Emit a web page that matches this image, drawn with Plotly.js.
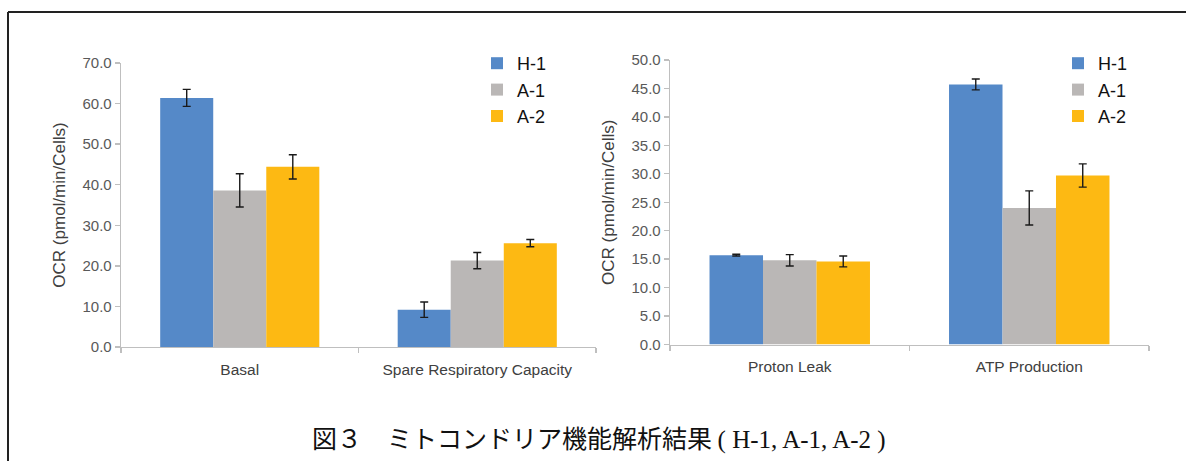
<!DOCTYPE html>
<html>
<head>
<meta charset="utf-8">
<script src="https://cdn.plot.ly/plotly-3.0.1.min.js"></script>
<style>html,body{margin:0;padding:0;background:#fff;}#chart{width:1186px;height:461px;}</style>
</head>
<body>
<div id="chart"></div>
<script>
// ---- data ----
const seriesNames = ["H-1", "A-1", "A-2"];
const leftCategories = ["Basal", "Spare Respiratory Capacity"];
const rightCategories = ["Proton Leak", "ATP Production"];

const leftH1 = [61.4, 9.2];
const leftA1 = [38.6, 21.3];
const leftA2 = [44.4, 25.6];
const leftH1Err = [2.1, 1.9];
const leftA1Err = [4.1, 2.0];
const leftA2Err = [3.0, 0.9];

const rightH1 = [15.7, 45.7];
const rightA1 = [14.8, 24.0];
const rightA2 = [14.6, 29.7];
const rightH1Err = [0.15, 0.95];
const rightA1Err = [1.0, 3.0];
const rightA2Err = [0.95, 2.05];

const yTitle = "OCR (pmol/min/Cells)";
const caption = "図３　ミトコンドリア機能解析結果 <span style=\"font-family:'Liberation Serif','DejaVu Serif',serif\">( H-1, A-1, A-2 )</span>";

const colors = ["#5589c8", "#bab7b6", "#fdb913"];

// ---- layout helpers ----
const W = 1186, H = 461;
const M = {l: 121, r: 37, t: 60, b: 114};
const PW = W - M.l - M.r, PH = H - M.t - M.b;
const px = x => (x - M.l) / PW;
const py = y => (H - M.b - y) / PH;

function errBar(arr) {
  return {type: "data", array: arr, visible: true, color: "#1a1a1a", thickness: 1.4, width: 4};
}

const leftVals = [leftH1, leftA1, leftA2];
const leftErrs = [leftH1Err, leftA1Err, leftA2Err];
const rightVals = [rightH1, rightA1, rightA2];
const rightErrs = [rightH1Err, rightA1Err, rightA2Err];

const traces = [];
seriesNames.forEach((name, i) => {
  traces.push({
    type: "bar", name: name, x: leftCategories, y: leftVals[i],
    error_y: errBar(leftErrs[i]),
    marker: {color: colors[i], line: {width: 0}},
    xaxis: "x", yaxis: "y", legend: "legend", hoverinfo: "x+y"
  });
});
seriesNames.forEach((name, i) => {
  traces.push({
    type: "bar", name: name, x: rightCategories, y: rightVals[i],
    error_y: errBar(rightErrs[i]),
    marker: {color: colors[i], line: {width: 0}},
    xaxis: "x2", yaxis: "y2", legend: "legend2", hoverinfo: "x+y"
  });
});

const tickFont = {family: "'Liberation Sans', Arial, sans-serif", size: 15, color: "#595959"};
const catFont = {family: "'Liberation Sans', Arial, sans-serif", size: 15.5, color: "#404040"};
const titleFont = {family: "'Liberation Sans', Arial, sans-serif", size: 17, color: "#404040"};
const legFont = {family: "'Liberation Sans', Arial, sans-serif", size: 18, color: "#111"};

function xAxis(domain, anchor) {
  return {
    domain: domain, anchor: anchor, type: "category",
    showline: true, linecolor: "#bfbfbf", linewidth: 1.3,
    ticks: "outside", tickson: "boundaries", ticklen: 5, tickcolor: "#bfbfbf", tickwidth: 1.3,
    ticklabelstandoff: 8,
    showgrid: false, zeroline: false, tickfont: catFont, fixedrange: true
  };
}
function yAxis(domain, anchor, range, dtick) {
  return {
    domain: domain, anchor: anchor, range: range, dtick: dtick, tick0: 0,
    tickformat: ".1f",
    showline: true, linecolor: "#bfbfbf", linewidth: 1.3,
    ticks: "outside", ticklen: 5, tickcolor: "#bfbfbf", tickwidth: 1.3,
    showgrid: false, zeroline: false, tickfont: tickFont,
    title: {text: yTitle, font: titleFont, standoff: 12}, fixedrange: true
  };
}

const layout = {
  width: W, height: H,
  margin: M,
  paper_bgcolor: "#ffffff", plot_bgcolor: "#ffffff",
  barmode: "group", bargap: 0.33, bargroupgap: 0,
  showlegend: true,
  xaxis: xAxis([0, px(596)], "y"),
  yaxis: yAxis([0, py(63)], "x", [0, 70], 10),
  xaxis2: xAxis([px(670), 1], "y2"),
  yaxis2: yAxis([py(344.5), py(60)], "x2", [0, 50], 5),
  legend: {x: px(477), y: py(45), xanchor: "left", yanchor: "top", font: legFont,
           bgcolor: "rgba(0,0,0,0)", tracegroupgap: 0, itemgap: 0},
  legend2: {x: px(1058), y: py(45), xanchor: "left", yanchor: "top", font: legFont,
            bgcolor: "rgba(0,0,0,0)", tracegroupgap: 0},
  annotations: [{
    text: caption, xref: "paper", yref: "paper", x: px(598.5), y: py(437),
    xanchor: "center", yanchor: "middle", showarrow: false,
    font: {family: "'Noto Sans CJK JP', sans-serif", size: 25, color: "#111"}
  }],
  shapes: [
    {type: "line", xref: "paper", yref: "paper", x0: px(8), x1: px(1186), y0: py(12), y1: py(12),
     line: {color: "#222", width: 2}},
    {type: "line", xref: "paper", yref: "paper", x0: px(8), x1: px(8), y0: py(12), y1: py(461),
     line: {color: "#222", width: 2}}
  ]
};

Plotly.newPlot("chart", traces, layout, {displayModeBar: false, staticPlot: true});
</script>
</body>
</html>
